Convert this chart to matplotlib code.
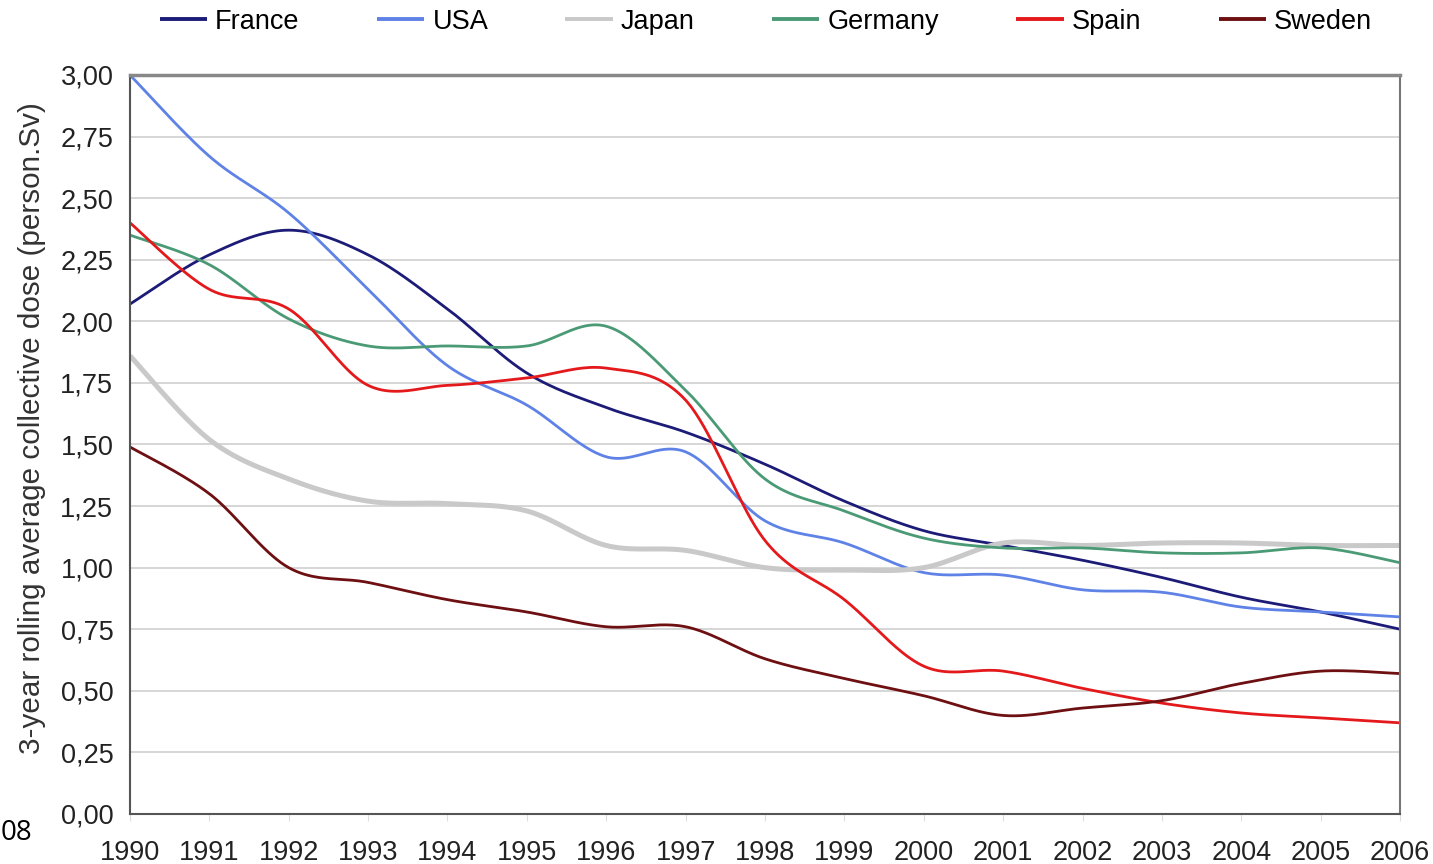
import numpy as np
import matplotlib
matplotlib.use("Agg")
import matplotlib.pyplot as plt
from matplotlib.ticker import FuncFormatter, MultipleLocator

plt.rcParams['font.family'] = ['Liberation Sans', 'DejaVu Sans']

years = list(range(1990, 2007))
year_labels = [str(y) for y in years]

france = [2.07, 2.27, 2.37, 2.27, 2.05, 1.79, 1.65, 1.55, 1.42, 1.27, 1.15, 1.09, 1.03, 0.96, 0.88, 0.82, 0.75]
usa = [3.00, 2.67, 2.44, 2.13, 1.82, 1.66, 1.45, 1.47, 1.19, 1.10, 0.98, 0.97, 0.91, 0.90, 0.84, 0.82, 0.80]
japan = [1.86, 1.52, 1.36, 1.27, 1.26, 1.23, 1.09, 1.07, 1.00, 0.99, 1.00, 1.10, 1.09, 1.10, 1.10, 1.09, 1.09]
germany = [2.35, 2.23, 2.01, 1.90, 1.90, 1.90, 1.98, 1.72, 1.36, 1.23, 1.12, 1.08, 1.08, 1.06, 1.06, 1.08, 1.02]
spain = [2.40, 2.13, 2.05, 1.74, 1.74, 1.77, 1.81, 1.68, 1.11, 0.87, 0.60, 0.58, 0.51, 0.45, 0.41, 0.39, 0.37]
sweden = [1.49, 1.30, 1.00, 0.94, 0.87, 0.82, 0.76, 0.76, 0.63, 0.55, 0.48, 0.40, 0.43, 0.46, 0.53, 0.58, 0.57]

series = [
    ("France", france, "#1c1c78", 2.0),
    ("USA", usa, "#5f82e6", 2.0),
    ("Japan", japan, "#c9c9c9", 3.6),
    ("Germany", germany, "#4b9a76", 2.0),
    ("Spain", spain, "#e4191c", 2.0),
    ("Sweden", sweden, "#6e0f12", 2.0),
]


def smooth(xs, ys, n=40):
    """Smoothed curve through the points (cubic Bezier, Catmull-Rom tangents)."""
    xs = np.asarray(xs, float)
    ys = np.asarray(ys, float)
    px = np.concatenate([[xs[0]], xs, [xs[-1]]])
    py = np.concatenate([[ys[0]], ys, [ys[-1]]])
    outx, outy = [], []
    t = np.linspace(0, 1, n, endpoint=False)
    for i in range(1, len(px) - 2):
        p0 = np.array([px[i], py[i]])
        p3 = np.array([px[i + 1], py[i + 1]])
        c1 = p0 + (np.array([px[i + 1], py[i + 1]]) - np.array([px[i - 1], py[i - 1]])) / 6.0
        c2 = p3 - (np.array([px[i + 2], py[i + 2]]) - np.array([px[i], py[i]])) / 6.0
        b = ((1 - t) ** 3)[:, None] * p0 + (3 * (1 - t) ** 2 * t)[:, None] * c1 \
            + (3 * (1 - t) * t ** 2)[:, None] * c2 + (t ** 3)[:, None] * p3
        outx.extend(b[:, 0])
        outy.extend(b[:, 1])
    outx.append(xs[-1])
    outy.append(ys[-1])
    return np.array(outx), np.array(outy)


FS = 19.5

fig = plt.figure(figsize=(14.33, 8.64), dpi=100)
ax = fig.add_axes([0.0907, 0.0579, 0.8863, 0.8553])

for name, vals, color, lw in series:
    sx, sy = smooth(years, vals)
    ax.plot(sx, sy, color=color, lw=lw, label=name, solid_capstyle='butt')

ax.set_xlim(1990, 2006)
ax.set_ylim(0, 3.0)
ax.yaxis.set_major_locator(MultipleLocator(0.25))
ax.yaxis.set_major_formatter(FuncFormatter(lambda v, p: f"{v:.2f}".replace(".", ",")))
ax.set_xticks(years)
ax.set_xticklabels(year_labels)
ax.grid(axis='y', color='#d0d0d0', lw=1.2)
ax.set_axisbelow(True)

for side in ['left', 'bottom']:
    ax.spines[side].set_color('#555555')
    ax.spines[side].set_linewidth(1.5)
ax.spines['top'].set_color('#888888')
ax.spines['top'].set_linewidth(2.5)
ax.spines['right'].set_color('#777777')
ax.spines['right'].set_linewidth(1.5)

ax.tick_params(axis='x', length=5, color='#dddddd', labelsize=FS, labelcolor='#222222', pad=14)
ax.tick_params(axis='y', length=0, labelsize=FS, labelcolor='#222222', pad=12)

ax.set_ylabel("3-year rolling average collective dose (person.Sv)", fontsize=21.3,
              color='#333333')
ax.yaxis.set_label_coords(-0.066, 0.522)

leg = fig.legend(loc='upper center', bbox_to_anchor=(0.5345, 1.018), ncol=6, frameon=False,
                 fontsize=FS, handlelength=1.75, handletextpad=0.3, columnspacing=2.85)
for h in leg.legend_handles:
    h.set_linewidth(2.8)

fig.text(0.0005, 0.02, "08", fontsize=20, color='#000000', ha='left', va='bottom',
         family=['Open Sans', 'DejaVu Sans'])

fig.savefig("out.png", dpi=100)
